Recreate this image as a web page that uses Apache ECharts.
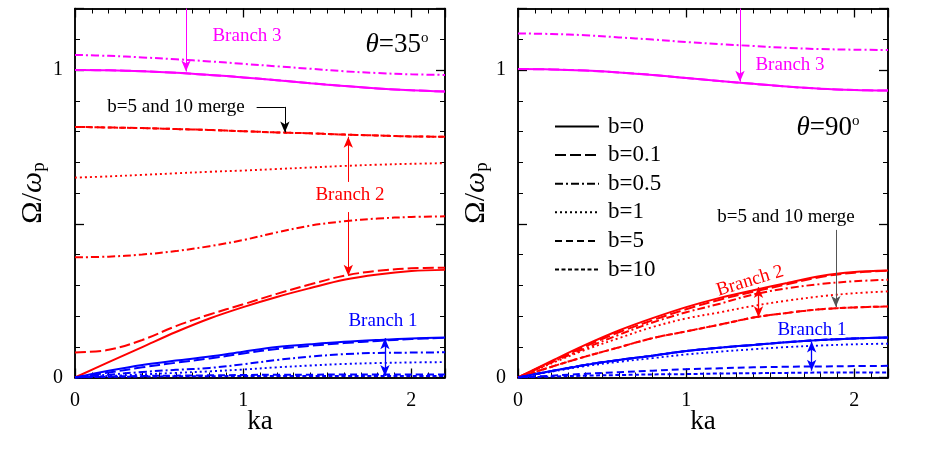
<!DOCTYPE html>
<html>
<head>
<meta charset="utf-8">
<script src="https://cdn.jsdelivr.net/npm/echarts@6/dist/echarts.min.js"></script>
<style>
html, body { margin: 0; padding: 0; background: #fff; }
#main { width: 926px; height: 453px; }
</style>
</head>
<body>
<div id="main"></div>
<script>
/* wave number ka, shared by every curve */
var ka = [0, 0.2, 0.4, 0.6, 0.8, 1.0, 1.2, 1.4, 1.6, 1.8, 2.0, 2.2];
var xTicks = ['0', '1', '2'];
var yTicks = ['0', '1'];
var legendNames = ['b=0', 'b=0.1', 'b=0.5', 'b=1', 'b=5', 'b=10'];

/* theta = 35 deg */
var t35_br3_b0  = [1.000, 0.999, 0.996, 0.991, 0.984, 0.976, 0.967, 0.957, 0.948, 0.940, 0.934, 0.930];
var t35_br3_b01 = [1.000, 0.999, 0.996, 0.991, 0.984, 0.976, 0.967, 0.957, 0.948, 0.940, 0.934, 0.930];
var t35_br3_b05 = [1.049, 1.046, 1.041, 1.035, 1.028, 1.020, 1.012, 1.004, 0.996, 0.990, 0.986, 0.984];
var t35_br2_b0  = [0, 0.050, 0.099, 0.148, 0.192, 0.229, 0.262, 0.291, 0.318, 0.335, 0.346, 0.350];
var t35_br2_b01 = [0.081, 0.090, 0.122, 0.167, 0.205, 0.238, 0.272, 0.303, 0.331, 0.347, 0.355, 0.357];
var t35_br2_b05 = [0.391, 0.393, 0.400, 0.411, 0.427, 0.447, 0.472, 0.494, 0.508, 0.517, 0.522, 0.524];
var t35_br2_b1  = [0.650, 0.654, 0.659, 0.664, 0.669, 0.673, 0.678, 0.683, 0.688, 0.692, 0.695, 0.697];
var t35_br2_b5  = [0.815, 0.813, 0.811, 0.808, 0.805, 0.801, 0.797, 0.794, 0.790, 0.787, 0.784, 0.783];
var t35_br2_b10 = [0.815, 0.813, 0.811, 0.808, 0.805, 0.801, 0.797, 0.794, 0.790, 0.787, 0.784, 0.783];
var t35_br1_b0  = [0, 0.022, 0.041, 0.055, 0.068, 0.084, 0.099, 0.108, 0.116, 0.122, 0.127, 0.130];
var t35_br1_b01 = [0, 0.016, 0.033, 0.048, 0.062, 0.078, 0.093, 0.103, 0.112, 0.119, 0.125, 0.129];
var t35_br1_b05 = [0, 0.009, 0.018, 0.025, 0.031, 0.043, 0.057, 0.068, 0.076, 0.080, 0.081, 0.082];
var t35_br1_b1  = [0, 0.005, 0.010, 0.015, 0.020, 0.026, 0.033, 0.039, 0.044, 0.047, 0.049, 0.050];
var t35_br1_b5  = [0, 0.003, 0.005, 0.006, 0.007, 0.008, 0.009, 0.009, 0.010, 0.010, 0.010, 0.010];
var t35_br1_b10 = [0, 0.002, 0.003, 0.004, 0.004, 0.005, 0.005, 0.005, 0.005, 0.005, 0.005, 0.005];

/* theta = 90 deg */
var t90_br3_b0  = [1.003, 1.002, 0.998, 0.992, 0.984, 0.974, 0.964, 0.955, 0.946, 0.939, 0.935, 0.933];
var t90_br3_b01 = [1.003, 1.002, 0.998, 0.992, 0.984, 0.974, 0.964, 0.955, 0.946, 0.939, 0.935, 0.933];
var t90_br3_b05 = [1.119, 1.117, 1.113, 1.106, 1.099, 1.091, 1.084, 1.078, 1.072, 1.068, 1.066, 1.065];
var t90_br2_b0  = [0, 0.054, 0.106, 0.153, 0.193, 0.229, 0.259, 0.284, 0.307, 0.330, 0.343, 0.348];
var t90_br2_b01 = [0, 0.051, 0.101, 0.147, 0.186, 0.222, 0.253, 0.279, 0.303, 0.327, 0.341, 0.347];
var t90_br2_b05 = [0, 0.049, 0.095, 0.139, 0.179, 0.212, 0.240, 0.270, 0.290, 0.304, 0.313, 0.318];
var t90_br2_b1  = [0, 0.046, 0.090, 0.128, 0.164, 0.192, 0.212, 0.233, 0.250, 0.264, 0.274, 0.280];
var t90_br2_b5  = [0, 0.035, 0.068, 0.098, 0.128, 0.150, 0.172, 0.195, 0.210, 0.222, 0.228, 0.231];
var t90_br2_b10 = [0, 0.035, 0.068, 0.098, 0.128, 0.150, 0.172, 0.195, 0.210, 0.222, 0.228, 0.231];
var t90_br1_b0  = [0, 0.021, 0.041, 0.057, 0.071, 0.086, 0.097, 0.106, 0.115, 0.122, 0.127, 0.130];
var t90_br1_b01 = [0, 0.021, 0.041, 0.057, 0.071, 0.086, 0.097, 0.106, 0.115, 0.122, 0.127, 0.130];
var t90_br1_b05 = [0, 0.021, 0.041, 0.057, 0.071, 0.086, 0.097, 0.106, 0.115, 0.122, 0.127, 0.130];
var t90_br1_b1  = [0, 0.019, 0.037, 0.051, 0.063, 0.075, 0.084, 0.092, 0.099, 0.104, 0.108, 0.110];
var t90_br1_b5  = [0, 0.006, 0.012, 0.017, 0.022, 0.027, 0.030, 0.033, 0.035, 0.036, 0.037, 0.038];
var t90_br1_b10 = [0, 0.003, 0.006, 0.008, 0.010, 0.011, 0.013, 0.014, 0.015, 0.016, 0.016, 0.016];

var SERIF = '"Liberation Serif", "DejaVu Serif", serif';
var MAG = '#ff00ff', RED = '#ff0000', BLUE = '#0000ff';

/* line style for each b */
var styles = {
    'b=0':   { type: 'solid', width: 2 },
    'b=0.1': { type: [11, 4], width: 2 },
    'b=0.5': { type: [8, 3, 2, 3], width: 2 },
    'b=1':   { type: [2, 3], width: 1.9 },
    'b=5':   { type: [7, 4], width: 2 },
    'b=10':  { type: [4, 2.5], width: 2 }
};

/* grids 0,1 carry the minor ticks, grids 2,3 (same boxes) the major ticks, labels and curves */
var boxes = [
    { left: 75, top: 8.5, width: 370, height: 369 },
    { left: 518, top: 8.5, width: 370, height: 369 }
];
var grids = [boxes[0], boxes[1], boxes[0], boxes[1]];

var xAxes = [], yAxes = [];
function addAxes(g, major) {
    var line = { show: true, onZero: false, lineStyle: { color: '#000', width: 1.5 } };
    var tick = { inside: true, length: major ? 9 : 5, lineStyle: { color: '#000', width: major ? 1.3 : 1 } };
    ['bottom', 'top'].forEach(function (pos) {
        var showLab = major && pos === 'bottom';
        xAxes.push({
            type: 'value', gridIndex: g, position: pos, min: 0, max: 2.2, interval: major ? 1 : 0.1,
            axisLine: line, splitLine: { show: false }, axisTick: tick,
            axisLabel: {
                show: showLab, margin: 13, color: '#000', fontFamily: SERIF, fontSize: 20,
                formatter: function (v) {
                    var r = Math.round(v);
                    return Math.abs(v - r) < 1e-6 ? xTicks[r] || '' : '';
                }
            },
            name: showLab ? 'ka' : '',
            nameLocation: 'middle', nameGap: 31, nameMoveOverlap: false,
            nameTextStyle: { color: '#000', fontFamily: SERIF, fontSize: 27 }
        });
    });
    ['left', 'right'].forEach(function (pos) {
        var showLab = major && pos === 'left';
        yAxes.push({
            type: 'value', gridIndex: g, position: pos, min: 0, max: 1.2, interval: major ? 0.5 : 0.1,
            axisLine: line, splitLine: { show: false }, axisTick: tick,
            axisLabel: {
                show: showLab, margin: 12, color: '#000', fontFamily: SERIF, fontSize: 20,
                formatter: function (v) {
                    var r = Math.round(v);
                    return Math.abs(v - r) < 1e-6 ? yTicks[r] || '' : '';
                }
            },
            name: showLab ? '{a|Ω/}{w|ω}{s|p}' : '',
            nameLocation: 'middle', nameRotate: 90, nameGap: 26,
            nameTextStyle: {
                color: '#000', fontFamily: SERIF,
                rich: {
                    a: { fontSize: 30, fontFamily: SERIF, lineHeight: 32, color: '#000' },
                    w: { fontSize: 30, fontFamily: SERIF, fontStyle: 'italic', lineHeight: 32, color: '#000' },
                    s: { fontSize: 19, fontFamily: SERIF, lineHeight: 19, verticalAlign: 'bottom', color: '#000' }
                }
            }
        });
    });
}
addAxes(0, false);
addAxes(1, false);
addAxes(2, true);
addAxes(3, true);

var count = 0;
function curve(p, b, color, vals) {
    count++;
    var ax = (p + 2) * 2;
    return {
        type: 'line',
        name: b + ' #' + count,
        xAxisIndex: ax,
        yAxisIndex: ax,
        data: ka.map(function (k, i) { return [k, vals[i]]; }),
        smooth: 0.35,
        symbol: 'none',
        silent: true,
        lineStyle: { color: color, width: styles[b].width, type: styles[b].type }
    };
}

/* arrows in data coordinates */
function arrow(p1, p2, color, both, width) {
    return [
        { coord: p1, symbol: both ? 'arrow' : 'none', lineStyle: { color: color, width: width || 1, type: 'solid' } },
        { coord: p2, symbol: 'arrow' }
    ];
}
function plain(p1, p2, color) {
    return [
        { coord: p1, symbol: 'none', lineStyle: { color: color, width: 1, type: 'solid' } },
        { coord: p2, symbol: 'none' }
    ];
}
function marks(p, list) {
    var ax = (p + 2) * 2;
    return {
        type: 'line', xAxisIndex: ax, yAxisIndex: ax, data: [], silent: true,
        markLine: { silent: true, symbolSize: [7, 11], label: { show: false }, data: list }
    };
}

var series = [];
/* black legend entries */
legendNames.forEach(function (b) {
    series.push({
        type: 'line', name: b, xAxisIndex: 6, yAxisIndex: 6, data: [], symbol: 'none',
        lineStyle: { color: '#000', width: styles[b].width, type: styles[b].type },
        itemStyle: { color: '#000' }
    });
});

series.push(
    curve(0, 'b=0', MAG, t35_br3_b0),
    curve(0, 'b=0.1', MAG, t35_br3_b01),
    curve(0, 'b=0.5', MAG, t35_br3_b05),
    curve(0, 'b=0', RED, t35_br2_b0),
    curve(0, 'b=0.1', RED, t35_br2_b01),
    curve(0, 'b=0.5', RED, t35_br2_b05),
    curve(0, 'b=1', RED, t35_br2_b1),
    curve(0, 'b=5', RED, t35_br2_b5),
    curve(0, 'b=10', RED, t35_br2_b10),
    curve(0, 'b=0', BLUE, t35_br1_b0),
    curve(0, 'b=0.1', BLUE, t35_br1_b01),
    curve(0, 'b=0.5', BLUE, t35_br1_b05),
    curve(0, 'b=1', BLUE, t35_br1_b1),
    curve(0, 'b=5', BLUE, t35_br1_b5),
    curve(0, 'b=10', BLUE, t35_br1_b10),

    curve(1, 'b=0', MAG, t90_br3_b0),
    curve(1, 'b=0.1', MAG, t90_br3_b01),
    curve(1, 'b=0.5', MAG, t90_br3_b05),
    curve(1, 'b=0', RED, t90_br2_b0),
    curve(1, 'b=0.1', RED, t90_br2_b01),
    curve(1, 'b=0.5', RED, t90_br2_b05),
    curve(1, 'b=1', RED, t90_br2_b1),
    curve(1, 'b=5', RED, t90_br2_b5),
    curve(1, 'b=10', RED, t90_br2_b10),
    curve(1, 'b=0', BLUE, t90_br1_b0),
    curve(1, 'b=0.1', BLUE, t90_br1_b01),
    curve(1, 'b=0.5', BLUE, t90_br1_b05),
    curve(1, 'b=1', BLUE, t90_br1_b1),
    curve(1, 'b=5', BLUE, t90_br1_b5),
    curve(1, 'b=10', BLUE, t90_br1_b10)
);

series.push(marks(0, [
    arrow([0.66, 1.2], [0.66, 0.995], MAG),
    plain([1.08, 0.88], [1.248, 0.88], '#000'),
    arrow([1.248, 0.88], [1.248, 0.797], '#000'),
    arrow([1.625, 0.636], [1.625, 0.783], RED),
    arrow([1.625, 0.538], [1.625, 0.331], RED),
    arrow([1.843, 0.005], [1.843, 0.128], BLUE, true, 1.3)
]));
series.push(marks(1, [
    arrow([1.32, 1.2], [1.32, 0.962], MAG),
    arrow([1.89, 0.48], [1.89, 0.229], '#555'),
    arrow([1.43, 0.196], [1.43, 0.294], RED, true, 1.3),
    arrow([1.746, 0.022], [1.746, 0.117], BLUE, true, 1.3)
]));

function txt(x, y, s, color, size, rot) {
    return {
        type: 'text', x: x, y: y, rotation: rot || 0, silent: true,
        style: {
            text: s, fill: color, fontFamily: SERIF, fontSize: size,
            align: 'center', verticalAlign: 'middle', textAlign: 'center', textVerticalAlign: 'middle'
        }
    };
}
function theta(x, y, deg) {
    return {
        type: 'text', x: x, y: y, silent: true,
        style: {
            text: '{i|θ}{n|=' + deg + '}{s|o}',
            align: 'center', verticalAlign: 'middle', textAlign: 'center', textVerticalAlign: 'middle',
            rich: {
                i: { fontFamily: SERIF, fontSize: 27, fontStyle: 'italic', lineHeight: 28, fill: '#000' },
                n: { fontFamily: SERIF, fontSize: 27, lineHeight: 28, fill: '#000' },
                s: { fontFamily: SERIF, fontSize: 15, lineHeight: 15, verticalAlign: 'top', fill: '#000' }
            }
        }
    };
}

var myChart = echarts.init(document.getElementById('main'), null, { renderer: 'canvas' });
var option = {
    animation: false,
    backgroundColor: '#fff',
    grid: grids,
    xAxis: xAxes,
    yAxis: yAxes,
    legend: {
        data: legendNames,
        orient: 'vertical',
        left: 549, top: 110,
        itemWidth: 44, itemHeight: 14, itemGap: 5.6,
        selectedMode: false,
        itemStyle: { opacity: 0, color: 'transparent', borderColor: 'transparent' },
        textStyle: { fontFamily: SERIF, fontSize: 23, lineHeight: 23, color: '#000', padding: [0, 0, 0, 4] }
    },
    graphic: [
        txt(247, 36, 'Branch 3', MAG, 19),
        theta(397, 45, '35'),
        txt(176, 107, 'b=5 and 10 merge', '#000', 19),
        txt(350, 195, 'Branch 2', RED, 19),
        txt(383, 321, 'Branch 1', BLUE, 19),
        txt(790, 65, 'Branch 3', MAG, 19),
        theta(828, 128, '90'),
        txt(786, 217, 'b=5 and 10 merge', '#000', 19),
        txt(750, 281, 'Branch 2', RED, 19, 17 * Math.PI / 180),
        txt(812, 330, 'Branch 1', BLUE, 19)
    ],
    series: series
};
myChart.setOption(option);
</script>
</body>
</html>
